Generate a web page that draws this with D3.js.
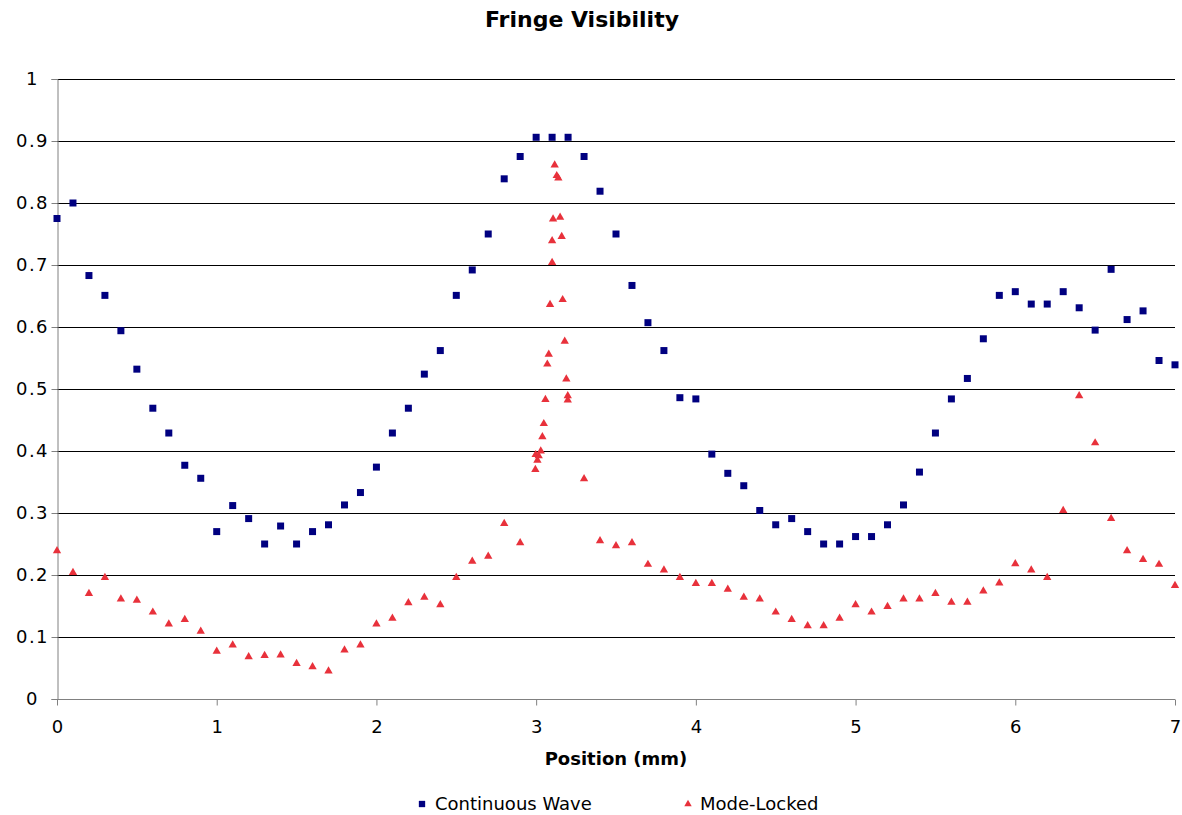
<!DOCTYPE html>
<html>
<head>
<meta charset="utf-8">
<script src="https://cdn.jsdelivr.net/npm/d3@7"></script>
<style>
  body { margin: 0; background: #fff; }
  svg text { font-family: "DejaVu Sans", Verdana, sans-serif; fill: #000; }
</style>
</head>
<body>
<div id="chart"></div>
<script>
// Continuous wave: position (mm) and visibility
const cwX = [0, 0.1, 0.2, 0.3, 0.4, 0.5, 0.6, 0.7, 0.8, 0.9, 1.0, 1.1, 1.2, 1.3, 1.4, 1.5, 1.6, 1.7, 1.8, 1.9,
  2.0, 2.1, 2.2, 2.3, 2.4, 2.5, 2.6, 2.7, 2.8, 2.9, 3.0, 3.1, 3.2, 3.3, 3.4, 3.5, 3.6, 3.7, 3.8, 3.9,
  4.0, 4.1, 4.2, 4.3, 4.4, 4.5, 4.6, 4.7, 4.8, 4.9, 5.0, 5.1, 5.2, 5.3, 5.4, 5.5, 5.6, 5.7, 5.8, 5.9,
  6.0, 6.1, 6.2, 6.3, 6.4, 6.5, 6.6, 6.7, 6.8, 6.9, 7.0];
const cwY = [0.775, 0.80, 0.683, 0.651, 0.594, 0.532, 0.469, 0.429, 0.377, 0.356, 0.270, 0.312, 0.291, 0.250, 0.279, 0.250, 0.270, 0.281, 0.313, 0.333,
  0.374, 0.429, 0.469, 0.524, 0.562, 0.651, 0.692, 0.750, 0.839, 0.875, 0.906, 0.906, 0.906, 0.875, 0.819, 0.750, 0.667, 0.607, 0.562, 0.486,
  0.484, 0.395, 0.364, 0.344, 0.304, 0.281, 0.291, 0.270, 0.250, 0.250, 0.262, 0.262, 0.281, 0.313, 0.366, 0.429, 0.484, 0.517, 0.581, 0.651,
  0.657, 0.637, 0.637, 0.657, 0.631, 0.595, 0.693, 0.612, 0.626, 0.546, 0.539];

// Mode-locked: coarse scan plus a fine scan around 3 mm
const mlX = [0, 0.1, 0.2, 0.3, 0.4, 0.5, 0.6, 0.7, 0.8, 0.9, 1.0, 1.1, 1.2, 1.3, 1.4, 1.5, 1.6, 1.7, 1.8, 1.9,
  2.0, 2.1, 2.2, 2.3, 2.4, 2.5, 2.6, 2.7, 2.8, 2.9,
  2.995, 2.997, 3.008, 3.016, 3.029, 3.039, 3.048, 3.058, 3.070, 3.079, 3.087, 3.10, 3.10, 3.106, 3.116, 3.129,
  3.139, 3.15, 3.16, 3.166, 3.179, 3.189, 3.198, 3.198,
  3.3, 3.4, 3.5, 3.6, 3.7, 3.8, 3.9, 4.0, 4.1, 4.2, 4.3, 4.4, 4.5, 4.6, 4.7, 4.8, 4.9,
  5.0, 5.1, 5.2, 5.3, 5.4, 5.5, 5.6, 5.7, 5.8, 5.9, 6.0, 6.1, 6.2, 6.3, 6.4, 6.5, 6.6, 6.7, 6.8, 6.9, 7.0];
const mlY = [0.239, 0.204, 0.170, 0.196, 0.161, 0.159, 0.140, 0.121, 0.128, 0.109, 0.077, 0.087, 0.068, 0.070, 0.071, 0.057, 0.052, 0.045, 0.079, 0.087,
  0.121, 0.130, 0.155, 0.164, 0.152, 0.196, 0.222, 0.230, 0.283, 0.252,
  0.370, 0.394, 0.385, 0.392, 0.400, 0.423, 0.444, 0.483, 0.540, 0.556, 0.636, 0.704, 0.739, 0.774, 0.861, 0.844,
  0.840, 0.777, 0.746, 0.644, 0.577, 0.516, 0.489, 0.482,
  0.355, 0.255, 0.247, 0.252, 0.217, 0.208, 0.196, 0.186, 0.186, 0.177, 0.164, 0.161, 0.140, 0.128, 0.118, 0.118, 0.130,
  0.152, 0.140, 0.149, 0.161, 0.161, 0.170, 0.156, 0.156, 0.174, 0.187, 0.218, 0.208, 0.196, 0.304, 0.489, 0.413, 0.291, 0.239, 0.225, 0.217, 0.183];

const xTicks = [0, 1, 2, 3, 4, 5, 6, 7];
const yTicks = [0, 0.1, 0.2, 0.3, 0.4, 0.5, 0.6, 0.7, 0.8, 0.9, 1];

function drawScatter(id) {
  const W = 1182, H = 815;
  const margin = { top: 79, right: 7, bottom: 116, left: 57 };
  const w = W - margin.left - margin.right;
  const h = H - margin.top - margin.bottom;

  const svg = d3.select(`#${id}`).append("svg")
    .attr("width", W).attr("height", H);

  const g = svg.append("g")
    .attr("transform", `translate(${margin.left},${margin.top})`);

  const xScale = d3.scaleLinear().domain([0, 7]).range([0, w]);
  const yScale = d3.scaleLinear().domain([0, 1]).range([h, 0]);

  // horizontal gridlines
  g.append("g").selectAll("line")
    .data(yTicks.filter((d) => d > 0))
    .join("line")
    .attr("x1", 0).attr("x2", w)
    .attr("y1", (d) => Math.round(yScale(d)) + 0.5)
    .attr("y2", (d) => Math.round(yScale(d)) + 0.5)
    .attr("stroke", "#000").attr("stroke-width", 1);

  // y axis - labels sit roughly centred in the left margin
  const yAxis = g.append("g")
    .attr("transform", "translate(0.5,0)")
    .call(d3.axisLeft(yScale).tickValues(yTicks).tickSize(6).tickFormat((d) => d3.format("")(d)));
  yAxis.select(".domain").attr("stroke", "#808080");
  yAxis.selectAll(".tick line").attr("stroke", "#808080");
  yAxis.selectAll("text")
    .attr("font-size", 18).attr("font-family", "DejaVu Sans")
    .attr("text-anchor", "middle").attr("x", -25)
    .attr("letter-spacing", "1.5px");

  // x axis
  const xAxis = g.append("g")
    .attr("transform", `translate(0,${h + 0.5})`)
    .call(d3.axisBottom(xScale).tickValues(xTicks).tickSize(6).tickPadding(15).tickFormat(d3.format("d")));
  xAxis.select(".domain").attr("stroke", "#808080").attr("d", `M0,0H${w}`);
  xAxis.selectAll(".tick line").attr("stroke", "#808080");
  xAxis.selectAll("text").attr("font-size", 18).attr("font-family", "DejaVu Sans");

  const square = d3.symbol().type(d3.symbolSquare).size(49);
  const triangle = d3.symbol().type(d3.symbolTriangle).size(30);

  // continuous wave points
  g.append("g").selectAll("path")
    .data(cwX.map((x, i) => ({ x: x, y: cwY[i] })))
    .join("path")
    .attr("d", square)
    .attr("transform", (d) => `translate(${xScale(d.x)},${yScale(d.y)})`)
    .attr("fill", "#000080");

  // mode-locked points
  g.append("g").selectAll("path")
    .data(mlX.map((x, i) => ({ x: x, y: mlY[i] })))
    .join("path")
    .attr("d", triangle)
    .attr("transform", (d) => `translate(${xScale(d.x)},${yScale(d.y)})`)
    .attr("fill", "#e8313b");

  // titles
  svg.append("text")
    .attr("x", 582).attr("y", 27)
    .attr("text-anchor", "middle")
    .attr("font-size", 22).attr("font-weight", "bold")
    .text("Fringe Visibility");

  svg.append("text")
    .attr("x", margin.left + w / 2).attr("y", 765)
    .attr("text-anchor", "middle")
    .attr("font-size", 18).attr("font-weight", "bold")
    .text("Position (mm)");

  // legend (kept just inside the bottom edge)
  const legend = svg.append("g");
  legend.append("path").attr("d", d3.symbol().type(d3.symbolSquare).size(40))
    .attr("transform", "translate(422,804)").attr("fill", "#000080");
  legend.append("text").attr("x", 435).attr("y", 810)
    .attr("font-size", 18).text("Continuous Wave");
  legend.append("path").attr("d", d3.symbol().type(d3.symbolTriangle).size(24))
    .attr("transform", "translate(688,804)").attr("fill", "#e8313b");
  legend.append("text").attr("x", 700).attr("y", 810)
    .attr("font-size", 18).text("Mode-Locked");
}

document.addEventListener("DOMContentLoaded", function () {
  drawScatter("chart");
});
</script>
</body>
</html>
